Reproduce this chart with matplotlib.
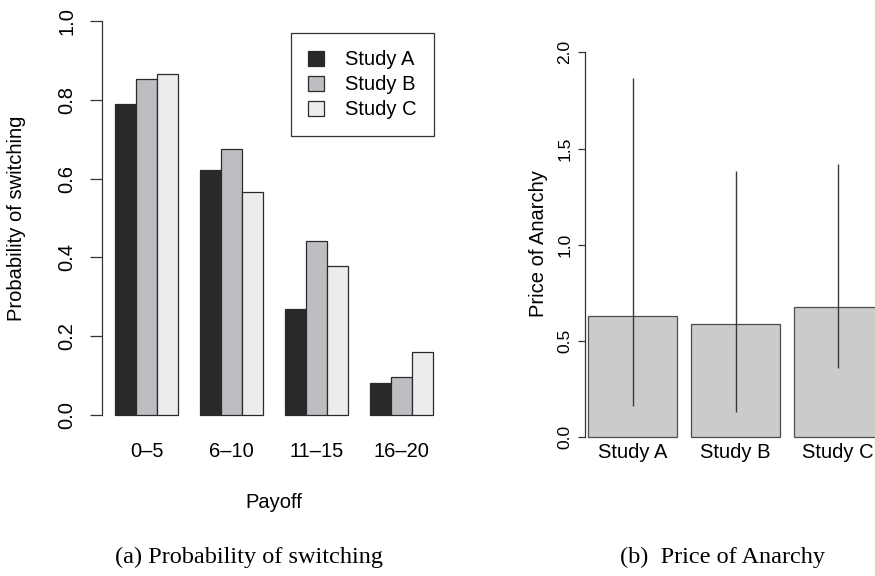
import numpy as np
import matplotlib
matplotlib.use('Agg')
import matplotlib.pyplot as plt

# data
payoff_bins = ['0\u20135', '6\u201310', '11\u201315', '16\u201320']
study_names = ['Study A', 'Study B', 'Study C']
switch_a = [0.789, 0.623, 0.268, 0.082]
switch_b = [0.853, 0.676, 0.442, 0.096]
switch_c = [0.866, 0.566, 0.377, 0.160]

poa_mean = [0.632, 0.589, 0.675]
poa_low = [0.164, 0.130, 0.358]
poa_high = [1.868, 1.382, 1.418]

plt.rcParams['font.family'] = ['Liberation Sans', 'DejaVu Sans']

W, H = 875, 576
fig = plt.figure(figsize=(W / 100, H / 100), dpi=100)

def px_axes(left, top, right, bottom):
    return fig.add_axes([left / W, 1 - bottom / H, (right - left) / W, (bottom - top) / H])

ink = '#333333'
fill_cols = ['#2b2829', '#bdbec2', '#ececec']

# (a) probability of switching
ax1 = px_axes(102, 5.2, 446, 430.8)
groups = np.arange(len(payoff_bins))
for s, (vals, col) in enumerate(zip([switch_a, switch_b, switch_c], fill_cols)):
    ax1.bar(1.5 + 4 * groups + s, vals, width=1, color=col, edgecolor='#2a2a2a',
            linewidth=0.9, label=study_names[s])
ax1.set_xlim(0.4, 16.6)
ax1.set_ylim(-0.04, 1.04)
ax1.set_xticks(2.5 + 4 * groups)
ax1.set_xticklabels(payoff_bins)
ax1.set_yticks(np.arange(0, 1.01, 0.2))
ax1.set_yticklabels(['%.1f' % v for v in np.arange(0, 1.01, 0.2)], rotation=90, va='center')
ax1.tick_params(axis='x', length=0, pad=8, labelsize=14.5)
ax1.tick_params(axis='y', length=9, width=0.9, color=ink, pad=9.5, labelsize=14.5)
for sp in ['top', 'right', 'bottom']:
    ax1.spines[sp].set_visible(False)
ax1.spines['left'].set_bounds(0, 1)
ax1.spines['left'].set_color(ink)
ax1.spines['left'].set_linewidth(0.9)
leg = ax1.legend(loc='upper right', bbox_to_anchor=(434 / W, 1 - 33 / H),
                 bbox_transform=fig.transFigure, fontsize=14.5, fancybox=False,
                 edgecolor='black', handlelength=0.78, handleheight=0.78,
                 handletextpad=1.05, labelspacing=0.3, borderpad=0.85, borderaxespad=0)
leg.get_frame().set_linewidth(0.9)
fig.text(274 / W, 1 - 503 / H, 'Payoff', ha='center', va='center', fontsize=14.5)
fig.text(17 / W, 1 - 218 / H, 'Probability of switching', rotation=90,
         ha='center', va='center', fontsize=14.5)

# (b) price of anarchy
ax2 = px_axes(585, 36.9, 875, 441.15)
xpos = np.array([0.5, 1.654, 2.808])
err = [np.array(poa_mean) - np.array(poa_low), np.array(poa_high) - np.array(poa_mean)]
ax2.bar(xpos, poa_mean, width=1, color='#cbcbcc', edgecolor='#4d4d4d', linewidth=0.9)
ax2.errorbar(xpos, poa_mean, yerr=err, fmt='none', ecolor='#3a3a3a', elinewidth=1.0,
             capsize=0)
ax2.set_xlim(-0.037, 3.221)
ax2.set_ylim(-0.02, 2.08)
ax2.set_xticks(xpos)
ax2.set_xticklabels(study_names)
ax2.set_yticks(np.arange(0, 2.01, 0.5))
ax2.set_yticklabels(['%.1f' % v for v in np.arange(0, 2.01, 0.5)], rotation=90, va='center')
ax2.tick_params(axis='x', length=0, pad=1, labelsize=14.5)
ax2.tick_params(axis='y', length=5, width=0.9, color=ink, pad=4, labelsize=12.5)
for sp in ['top', 'right', 'bottom']:
    ax2.spines[sp].set_visible(False)
ax2.spines['left'].set_bounds(0, 2)
ax2.spines['left'].set_color(ink)
ax2.spines['left'].set_linewidth(0.9)
fig.text(538 / W, 1 - 244 / H, 'Price of Anarchy', rotation=90,
         ha='center', va='center', fontsize=14.5)

# captions
fig.text(249 / W, 1 - 557 / H, '(a) Probability of switching', ha='center', va='center',
         fontsize=17.5, family=['Liberation Serif', 'DejaVu Serif'])
fig.text(723 / W, 1 - 557 / H, '(b)  Price of Anarchy', ha='center', va='center',
         fontsize=17.5, family=['Liberation Serif', 'DejaVu Serif'])

fig.savefig('out.png', dpi=100)
